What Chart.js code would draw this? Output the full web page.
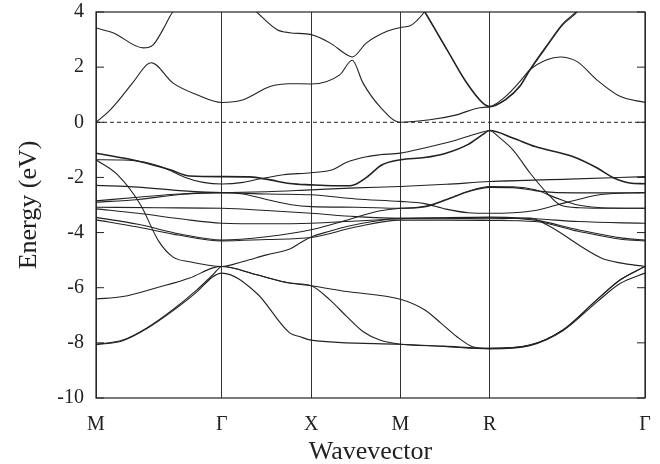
<!DOCTYPE html>
<html>
<head>
<meta charset="utf-8">
<script src="https://cdn.jsdelivr.net/npm/chart.js@4.4.1/dist/chart.umd.min.js"></script>
<style>
  body { margin: 0; background: #fff; }
  #wrap { width: 660px; height: 464px; }
</style>
</head>
<body>
<div id="wrap"><canvas id="bands"></canvas></div>
<script>
// high symmetry points along the k path (path length units)
const kLabels = ['M', 'Γ', 'X', 'M', 'R', 'Γ'];
const kTicks = [0, 1.41, 2.41, 3.41, 4.41, 6.15];
const eTicks = [4, 2, 0, -2, -4, -6, -8, -10];

// conduction bands [k, E]
const c1 = [[0,0],[0.16,0.45],[0.41,1.43],[0.57,2.09],[0.62,2.16],[0.86,1.43],[1.13,1.0],[1.41,0.72],[1.65,0.82],[1.95,1.3],[2.17,1.4],[2.41,1.39],[2.73,1.72],[2.87,2.25],[2.99,1.43],[3.18,0.57],[3.41,0.0],[3.74,0.09],[4.04,0.27],[4.30,0.53],[4.41,0.56],[4.59,0.94],[4.75,1.48],[4.86,1.9],[5.05,2.27],[5.20,2.37],[5.39,2.2],[5.61,1.54],[5.87,0.94],[6.15,0.72]];
const c2 = [[0,3.42],[0.19,3.25],[0.53,2.7],[0.64,2.81],[0.75,3.36],[0.86,4.0],[1.41,5.2],[1.80,4.0],[2.03,3.36],[2.17,3.25],[2.41,3.18],[2.62,2.88],[2.81,2.45],[2.87,2.37],[3.03,2.88],[3.26,3.3],[3.41,3.44],[3.52,3.5],[3.68,4.0],[3.92,5.2],[4.41,6.0]];
const c3 = [[3.41,5.4],[3.68,4.0],[3.93,2.63],[4.15,1.43],[4.33,0.7],[4.41,0.56],[4.59,0.82],[4.75,1.3],[4.86,1.88],[5.05,2.75],[5.23,3.54],[5.39,4.0],[5.6,5.0]];
const c4 = [[3.41,5.45],[3.68,4.04],[3.93,2.66],[4.15,1.46],[4.33,0.72],[4.41,0.58],[4.59,0.84],[4.75,1.33],[4.86,1.91],[5.05,2.79],[5.23,3.58],[5.39,4.05],[5.6,5.05]];

// upper valence bands [k, E]
const vA = [[0,-1.12],[0.49,-1.42],[0.83,-1.72],[1.05,-1.95],[1.41,-1.97],[1.72,-1.98],[1.95,-2.09],[2.17,-2.22],[2.41,-2.27],[2.65,-2.3],[2.85,-2.3],[3.03,-2.0],[3.2,-1.55],[3.41,-1.36],[3.68,-1.28],[3.92,-1.12],[4.17,-0.8],[4.33,-0.45],[4.41,-0.3],[4.67,-0.57],[4.92,-0.88],[5.34,-1.24],[5.61,-1.65],[5.79,-2.0],[5.98,-2.2],[6.15,-2.23]];
const vB = [[0,-1.36],[0.3,-1.37],[0.55,-1.45],[0.8,-1.7],[1.0,-2.0],[1.2,-2.18],[1.41,-2.24],[1.65,-2.18],[1.84,-2.05],[2.1,-1.9],[2.41,-1.83],[2.65,-1.72],[2.81,-1.45],[3.03,-1.25],[3.18,-1.18],[3.41,-1.12],[3.68,-0.93],[4.04,-0.64],[4.30,-0.38],[4.41,-0.3],[4.51,-0.53],[4.67,-1.0],[4.86,-1.83],[5.05,-2.56],[5.2,-3.0],[5.42,-3.1],[5.8,-3.12],[6.15,-3.12]];
const vC = [[0,-1.36],[0.24,-1.9],[0.5,-3.0],[0.7,-4.3],[0.86,-4.88],[1.05,-5.06],[1.41,-5.23],[1.65,-5.05],[1.91,-4.81],[2.17,-4.6],[2.3,-4.35],[2.41,-4.16],[2.62,-3.95],[2.81,-3.78],[3.1,-3.6],[3.41,-3.48],[3.9,-3.48],[4.41,-3.5],[4.86,-3.47],[5.05,-3.72],[5.66,-4.92],[5.87,-5.1],[6.15,-5.23]];
const vD = [[0,-2.29],[0.47,-2.35],[0.94,-2.48],[1.41,-2.55],[1.91,-2.52],[2.41,-2.45],[2.91,-2.38],[3.41,-2.33],[3.92,-2.25],[4.41,-2.15],[5.3,-2.06],[6.15,-1.97]];
const vE = [[0,-2.85],[0.47,-2.72],[0.94,-2.6],[1.41,-2.55],[1.91,-2.6],[2.41,-2.63],[2.91,-2.78],[3.41,-2.87],[3.68,-2.95],[3.92,-3.15],[4.17,-3.28],[4.41,-3.3],[4.67,-3.28],[4.92,-3.2],[5.16,-3.0],[5.4,-2.8],[5.66,-2.62],[6.15,-2.55]];
const vF = [[0,-2.9],[0.47,-2.8],[0.94,-2.62],[1.41,-2.55],[1.65,-2.6],[1.91,-2.8],[2.17,-2.98],[2.41,-3.06],[2.91,-3.08],[3.41,-3.12],[3.68,-3.05],[3.92,-2.8],[4.17,-2.5],[4.41,-2.33],[4.67,-2.34],[4.92,-2.45],[5.16,-2.75],[5.4,-3.0],[5.66,-3.1],[6.15,-3.12]];
const vG = [[0,-3.08],[0.7,-3.1],[1.41,-3.12],[1.91,-3.2],[2.41,-3.3],[2.91,-3.42],[3.41,-3.48],[3.92,-3.47],[4.41,-3.46],[4.92,-3.55],[5.4,-3.9],[5.9,-4.2],[6.15,-4.27]];
const vH = [[0,-3.14],[0.47,-3.3],[0.94,-3.5],[1.41,-3.66],[1.91,-3.68],[2.41,-3.66],[2.91,-3.58],[3.41,-3.5],[3.92,-3.46],[4.41,-3.44],[4.92,-3.5],[5.4,-3.6],[5.9,-3.65],[6.15,-3.66]];
const vI = [[0,-3.45],[0.47,-3.7],[0.94,-4.05],[1.41,-4.27],[1.91,-4.15],[2.41,-3.9],[2.65,-3.7],[2.91,-3.45],[3.17,-3.22],[3.41,-3.12],[3.68,-3.07],[3.92,-2.82],[4.17,-2.52],[4.41,-2.36],[4.67,-2.37],[4.92,-2.48],[5.16,-2.55],[5.66,-2.56],[6.15,-2.55]];
const vJ = [[0,-3.54],[0.47,-3.8],[0.94,-4.1],[1.41,-4.3],[1.91,-4.25],[2.41,-4.18],[2.91,-3.8],[3.41,-3.55],[3.92,-3.55],[4.41,-3.56],[4.92,-3.6],[5.4,-3.95],[5.9,-4.25],[6.15,-4.3]];

// lower valence bands [k, E]
const l1 = [[0,-6.41],[0.3,-6.32],[0.68,-6.0],[1.05,-5.65],[1.31,-5.28],[1.41,-5.23],[1.80,-5.53],[2.17,-5.83],[2.41,-5.93],[2.81,-6.14],[3.41,-6.42],[3.68,-6.8],[3.87,-7.3],[4.04,-7.77],[4.22,-8.14],[4.41,-8.2],[4.86,-8.08],[5.23,-7.53],[5.61,-6.44],[5.87,-5.72],[6.15,-5.23]];
const l2 = [[0,-8.05],[0.3,-7.9],[0.57,-7.46],[0.86,-6.8],[1.13,-6.08],[1.31,-5.53],[1.41,-5.23],[1.80,-5.53],[2.17,-5.83],[2.41,-5.93],[2.62,-6.44],[2.81,-7.05],[2.99,-7.59],[3.18,-7.9],[3.41,-8.05],[3.9,-8.12],[4.41,-8.2],[4.86,-8.08],[5.23,-7.53],[5.61,-6.44],[5.87,-5.72],[6.15,-5.23]];
const l3 = [[0,-8.07],[0.3,-7.92],[0.57,-7.48],[0.86,-6.84],[1.13,-6.15],[1.31,-5.6],[1.41,-5.47],[1.80,-6.2],[2.17,-7.64],[2.28,-7.77],[2.41,-7.9],[3.41,-8.05],[3.9,-8.13],[4.41,-8.22],[4.86,-8.1],[5.23,-7.56],[5.61,-6.52],[5.87,-5.85],[6.15,-5.47]];

const fermi = [[0,0],[6.15,0]];

const bands = [c1, c2, c3, c4, vA, vB, vC, vD, vE, vF, vG, vH, vI, vJ, l1, l2, l3];
const boldBands = [vA];

const datasets = bands.map(b => ({
  data: b.map(p => ({x: p[0], y: p[1]})),
  borderColor: '#222',
  borderWidth: boldBands.includes(b) ? 1.6 : 1.1,
  pointRadius: 0,
  showLine: true,
  cubicInterpolationMode: 'monotone'
}));
datasets.push({
  data: fermi.map(p => ({x: p[0], y: p[1]})),
  borderColor: '#222',
  borderWidth: 1,
  borderDash: [4, 3],
  pointRadius: 0,
  showLine: true
});

// frame + inward ticks like the original gnuplot style
const framePlugin = {
  id: 'frame',
  afterDraw(chart) {
    const {ctx, chartArea: a, scales} = chart;
    ctx.save();
    ctx.strokeStyle = '#222';
    ctx.lineWidth = 1.2;
    ctx.strokeRect(a.left, a.top, a.right - a.left, a.bottom - a.top);
    ctx.lineWidth = 1;
    eTicks.forEach(v => {
      const y = scales.y.getPixelForValue(v);
      ctx.beginPath();
      ctx.moveTo(a.left, y); ctx.lineTo(a.left + 8, y);
      ctx.moveTo(a.right, y); ctx.lineTo(a.right - 8, y);
      ctx.stroke();
    });
    ctx.restore();
  }
};

const serif = 'Liberation Serif, Times New Roman, serif';

new Chart('bands', {
  type: 'scatter',
  data: { datasets: datasets },
  options: {
    responsive: true,
    maintainAspectRatio: false,
    animation: false,
    layout: { padding: { left: 0, right: 15, top: 12, bottom: 0 } },
    plugins: { legend: { display: false }, tooltip: { enabled: false } },
    scales: {
      x: {
        type: 'linear',
        min: 0, max: 6.15,
        afterBuildTicks: s => { s.ticks = kTicks.map(v => ({value: v})); },
        afterFit: s => { s.height = 66; s.paddingLeft = 0; s.paddingRight = 0; },
        ticks: {
          color: '#222',
          font: { family: serif, size: 20 },
          padding: 15,
          maxRotation: 0,
          callback: (v, i) => kLabels[i]
        },
        grid: { color: '#333', lineWidth: 1, drawTicks: false },
        border: { display: false },
        title: { display: true, text: 'Wavevector', color: '#222', font: { family: serif, size: 26 }, padding: { top: 0, bottom: -4 } }
      },
      y: {
        min: -10, max: 4,
        afterBuildTicks: s => { s.ticks = eTicks.map(v => ({value: v})); },
        afterFit: s => { s.width = 96; s.paddingTop = 0; s.paddingBottom = 0; },
        ticks: {
          color: '#222',
          font: { family: serif, size: 20 },
          padding: 12
        },
        grid: { display: false, drawTicks: false },
        border: { display: false },
        title: { display: true, text: 'Energy (eV)', color: '#222', font: { family: serif, size: 26 }, padding: { top: 14, bottom: 0 } }
      }
    }
  },
  plugins: [framePlugin]
});
</script>
</body>
</html>
